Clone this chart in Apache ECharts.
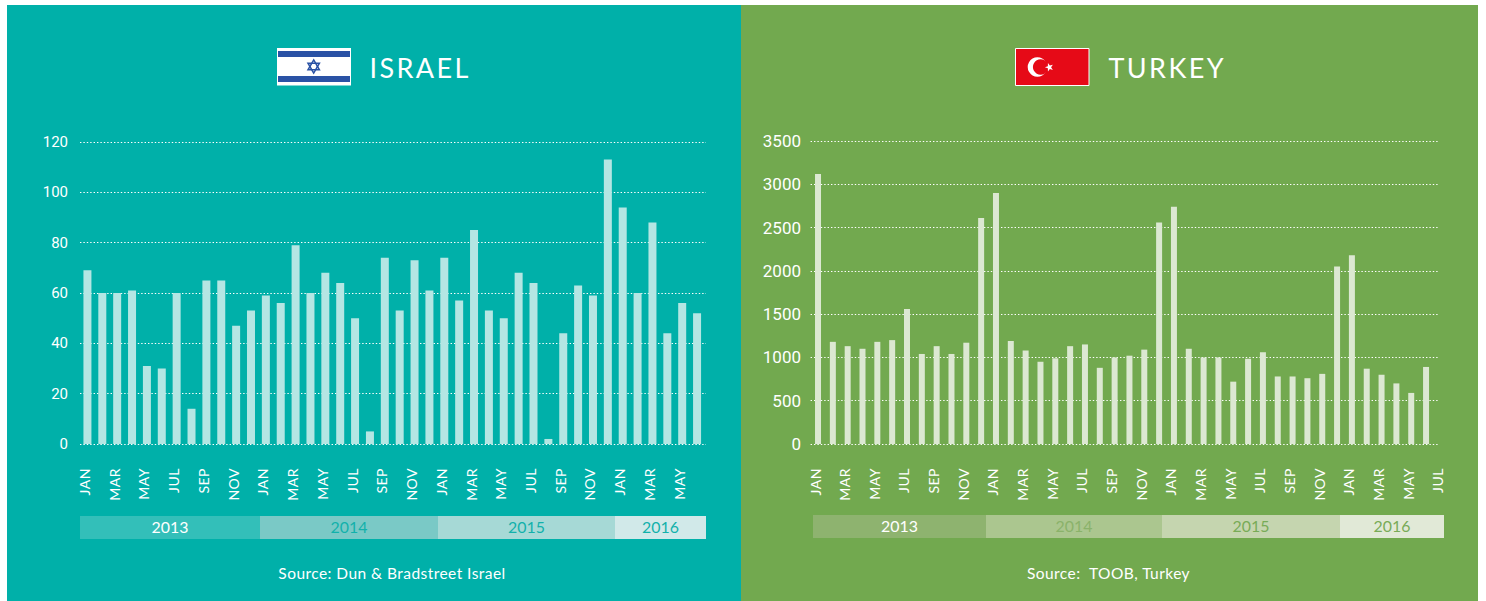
<!DOCTYPE html>
<html>
<head>
<meta charset="utf-8">
<script src="https://cdn.jsdelivr.net/npm/echarts@6/dist/echarts.min.js"></script>
<style>
html,body{margin:0;padding:0;background:#fff}
#c{width:1486px;height:601px}
text[style*="27px"]{letter-spacing:2.4px}
text[style*="14px"]{letter-spacing:.5px}
text[style*="15.5px"]{letter-spacing:.45px}
</style>
</head>
<body>
<div id="c"></div>
<script>
const months = ['JAN','FEB','MAR','APR','MAY','JUN','JUL','AUG','SEP','OCT','NOV','DEC'];
const israelCategories = [...months, ...months, ...months, ...months.slice(0, 6)];
const turkeyCategories = [...months, ...months, ...months, ...months.slice(0, 7)];
const israelValues = [69,60,60,61,31,30,60,14,65,65,47,53, 59,56,79,60,68,64,50,5,74,53,73,61, 74,57,85,53,50,68,64,2,44,63,59,113, 94,60,88,44,56,52];
const turkeyValues = [3120,1180,1130,1100,1180,1200,1560,1040,1130,1040,1170,2610, 2900,1190,1080,950,990,1130,1150,880,1000,1020,1090,2560, 2740,1100,1000,1000,720,985,1060,780,780,760,810,2050, 2180,870,800,700,590,890];
const yearLabels = ['2013','2014','2015','2016'];

const LATO = 'Lato';
function panel(p, gi) {
  return {
    grid: [
      {left: p.left, top: p.top, width: p.lineRight - p.left, height: p.bottom - p.top},
      {left: p.left, top: p.top, width: p.barWidthTotal, height: p.bottom - p.top}
    ],
    xAxis: [
      {gridIndex: gi, type: 'category', data: p.categories, show: false},
      {gridIndex: gi + 1, type: 'category', data: p.categories, boundaryGap: true,
       axisLine: {show: false}, axisTick: {show: false},
       axisLabel: {interval: 1, rotate: 90, color: '#fff', fontFamily: LATO, fontSize: 14, margin: 24, verticalAlign: 'bottom', lineHeight: 6}}
    ],
    yAxis: [
      {gridIndex: gi, type: 'value', min: 0, max: p.max, interval: p.step,
       axisLine: {show: false}, axisTick: {show: false},
       axisLabel: {color: '#fff', fontFamily: 'Roboto', fontSize: p.tickFont, margin: p.tickMargin, formatter: v => String(v)},
       splitLine: {show: true, lineStyle: {color: '#fff', width: 1.2, type: [1.4, 2]}}},
      {gridIndex: gi + 1, type: 'value', min: 0, max: p.max, interval: p.step, show: false, splitLine: {show: false}}
    ],
    series: [{
      type: 'bar', xAxisIndex: gi + 1, yAxisIndex: gi + 1, data: p.values,
      barWidth: p.barW, itemStyle: {color: p.barColor}, silent: true
    }]
  };
}
function bands(p) {
  const out = [];
  yearLabels.forEach((y, i) => {
    const x0 = p.bandEdges[i], x1 = p.bandEdges[i + 1];
    out.push({type: 'rect', silent: true, shape: {x: x0, y: p.bandTop, width: x1 - x0, height: 23}, style: {fill: p.bandFill[i]}});
    out.push({type: 'text', silent: true, x: (x0 + x1) / 2, y: p.bandTop + 10,
      style: {text: y, fill: p.bandText[i], font: '15.9px ' + LATO, textAlign: 'center', textVerticalAlign: 'middle'}});
  });
  return out;
}
function tri(cx, cy, r, rot) {
  const pts = [];
  for (let i = 0; i < 3; i++) { const a = rot + i * 2 * Math.PI / 3; pts.push([cx + r * Math.cos(a), cy + r * Math.sin(a)]); }
  return pts;
}
function star5(cx, cy, R, r) {
  const pts = [];
  for (let i = 0; i < 10; i++) { const a = Math.PI + i * Math.PI / 5, q = i % 2 ? r : R; pts.push([cx + q * Math.cos(a), cy + q * Math.sin(a)]); }
  return pts;
}
const ISRAEL = {
  categories: israelCategories, values: israelValues, left: 80, lineRight: 706, barWidthTotal: 624.5,
  top: 142, bottom: 444, max: 120, step: 20, barW: 8, barColor: '#B4E6E3', tickFont: 15, tickMargin: 12,
  bandEdges: [80, 260, 438, 615, 706], bandTop: 516,
  bandFill: ['#33BFB9', '#7AC9C6', '#A6D9D6', '#D1E9E9'], bandText: ['#fff', '#12B1AB', '#12B1AB', '#12B1AB']
};
const TURKEY = {
  categories: turkeyCategories, values: turkeyValues, left: 810.6, lineRight: 1438, barWidthTotal: 637.7,
  top: 141, bottom: 444, max: 3500, step: 500, barW: 6, barColor: '#DCE8D2', tickFont: 17, tickMargin: 9.6,
  bandEdges: [813, 986, 1162, 1340, 1444], bandTop: 515,
  bandFill: ['#8EB36F', '#ABC68F', '#C5D5AF', '#E1E9D7'], bandText: ['#fff', '#8AB26A', '#78AB57', '#78AB57']
};
const a = panel(ISRAEL, 0), b = panel(TURKEY, 2);
const bg = {silent: true, z: -10};
const TITLE_FONT = '27px ' + LATO;
const SRC_FONT = '15.5px ' + LATO;
const graphicEls = [
  {type: 'rect', ...bg, shape: {x: 7, y: 5, width: 734, height: 596}, style: {fill: '#00B0A9'}},
  {type: 'rect', ...bg, shape: {x: 741, y: 5, width: 737, height: 596}, style: {fill: '#72A94F'}},
  // Israeli flag
  {type: 'rect', silent: true, shape: {x: 277, y: 48, width: 74, height: 37.5}, style: {fill: '#fff'}},
  {type: 'rect', silent: true, shape: {x: 278, y: 51, width: 72, height: 6}, style: {fill: '#2A52A5'}},
  {type: 'rect', silent: true, shape: {x: 278, y: 76, width: 72, height: 6}, style: {fill: '#2A52A5'}},
  {type: 'polygon', silent: true, shape: {points: tri(313.7, 66.5, 6.6, -Math.PI / 2)}, style: {fill: 'none', stroke: '#2A52A5', lineWidth: 1.5}},
  {type: 'polygon', silent: true, shape: {points: tri(313.7, 66.5, 6.6, Math.PI / 2)}, style: {fill: 'none', stroke: '#2A52A5', lineWidth: 1.5}},
  // Turkish flag
  {type: 'rect', silent: true, shape: {x: 1015.5, y: 48.5, width: 73.5, height: 37}, style: {fill: '#E60A17', stroke: '#fff', lineWidth: 1}},
  {type: 'circle', silent: true, shape: {cx: 1037.4, cy: 67, r: 9.7}, style: {fill: '#fff'}},
  {type: 'circle', silent: true, shape: {cx: 1040.6, cy: 67, r: 7.7}, style: {fill: '#E60A17'}},
  {type: 'polygon', silent: true, shape: {points: star5(1049.3, 67.3, 4.4, 1.8)}, style: {fill: '#fff'}},
  // Titles
  {type: 'text', silent: true, x: 369.5, y: 67.5, style: {text: 'ISRAEL', fill: '#fff', font: TITLE_FONT, textAlign: 'left', textVerticalAlign: 'middle'}},
  {type: 'text', silent: true, x: 1108.5, y: 67.5, style: {text: 'TURKEY', fill: '#fff', font: TITLE_FONT, textAlign: 'left', textVerticalAlign: 'middle'}},
  // Sources
  {type: 'text', silent: true, x: 392, y: 572.5, style: {text: 'Source: Dun & Bradstreet Israel', fill: '#fff', font: SRC_FONT, textAlign: 'center', textVerticalAlign: 'middle'}},
  {type: 'text', silent: true, x: 1108.5, y: 572.5, style: {text: 'Source:  TOOB, Turkey', fill: '#fff', font: SRC_FONT, textAlign: 'center', textVerticalAlign: 'middle'}},
  ...bands(ISRAEL), ...bands(TURKEY)
];
const chart = echarts.init(document.getElementById('c'), null, {renderer: 'svg', width: 1486, height: 601});
chart.setOption({
  animation: false,
  backgroundColor: '#fff',
  graphic: {elements: graphicEls},
  grid: [...a.grid, ...b.grid],
  xAxis: [...a.xAxis, ...b.xAxis],
  yAxis: [...a.yAxis, ...b.yAxis],
  series: [...a.series, ...b.series]
});
</script>
</body>
</html>
